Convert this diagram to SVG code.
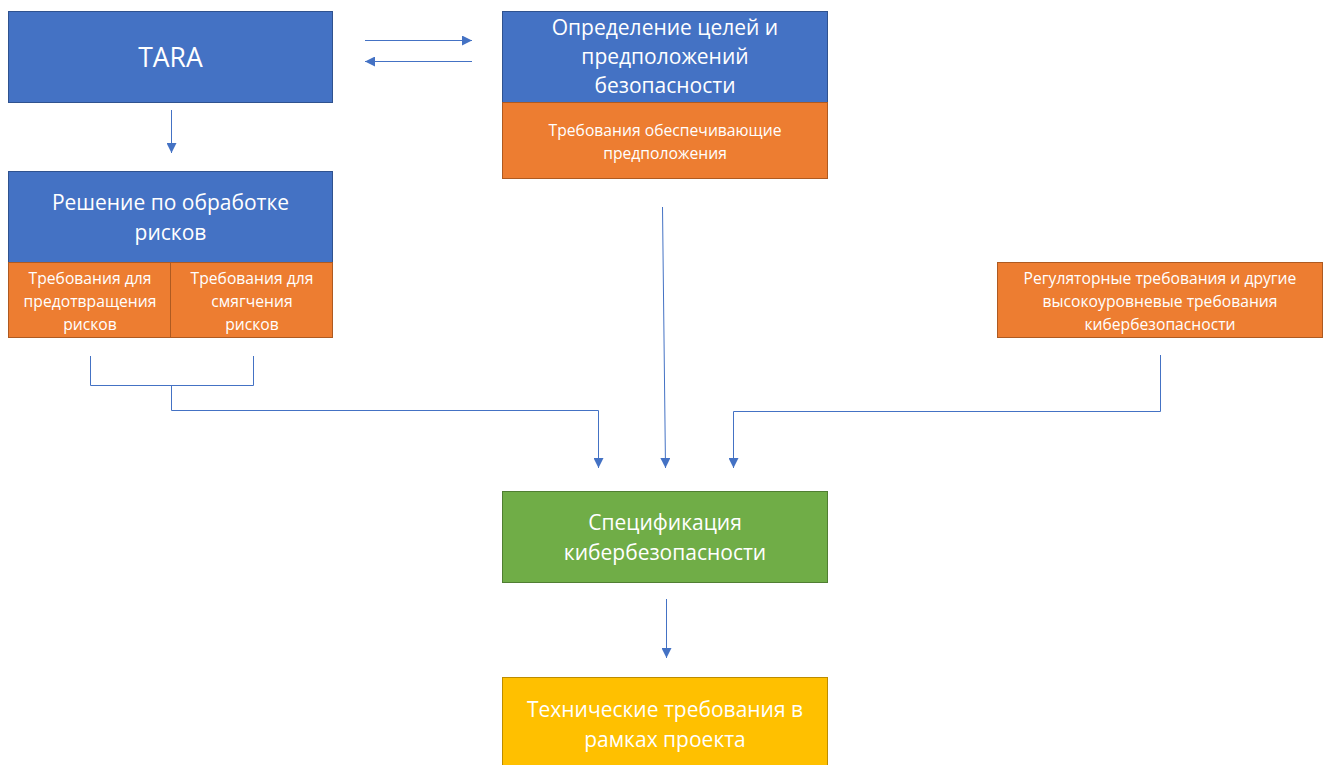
<svg xmlns="http://www.w3.org/2000/svg" width="1327" height="765" viewBox="0 0 1327 765">
<defs>
<marker id="ah" viewBox="0 0 10 10" refX="10" refY="5" markerWidth="10" markerHeight="10" markerUnits="userSpaceOnUse" orient="auto">
<path d="M0,0 L10,5 L0,10 Z" fill="#4472C4"/>
</marker>
<style>
.blue{fill:#4472C4;stroke:#2F528F;stroke-width:1}
.orange{fill:#ED7D31;stroke:#AE5A21;stroke-width:1}
.green{fill:#70AD47;stroke:#507E32;stroke-width:1}
.yellow{fill:#FFC000;stroke:#BC8C00;stroke-width:1}
text{font-family:"Open Sans","Noto Sans","Liberation Sans",sans-serif;fill:#FFFFFF;text-anchor:middle}
.big{font-size:26.5px}
.mid{font-size:21px}
.sm{font-size:15.7px}
.c{fill:none;stroke:#4472C4;stroke-width:1}
</style>
</defs>
<rect width="1327" height="765" fill="#FFFFFF"/>
<g id="tara">
<rect class="blue" x="8.5" y="11.5" width="324" height="91"/>
<text class="big" x="170.5" y="67">TARA</text>
</g>
<g id="goals">
<rect class="blue" x="502.5" y="11.5" width="325" height="91"/>
<text class="mid" x="665" y="35">Определение целей и</text>
<text class="mid" x="665" y="64">предположений</text>
<text class="mid" x="665" y="93">безопасности</text>
<rect class="orange" x="502.5" y="102.5" width="325" height="76"/>
<text class="sm" x="665" y="136">Требования обеспечивающие</text>
<text class="sm" x="665" y="159">предположения</text>
</g>
<g id="risk">
<rect class="blue" x="8.5" y="171.5" width="324" height="91"/>
<text class="mid" x="170.5" y="210">Решение по обработке</text>
<text class="mid" x="170.5" y="240">рисков</text>
</g>
<g id="prevent">
<rect class="orange" x="8.5" y="262.5" width="162" height="75"/>
<text class="sm" x="90" y="284">Требования для</text>
<text class="sm" x="90" y="307">предотвращения</text>
<text class="sm" x="90" y="330">рисков</text>
</g>
<g id="mitigate">
<rect class="orange" x="170.5" y="262.5" width="162" height="75"/>
<text class="sm" x="252" y="284">Требования для</text>
<text class="sm" x="252" y="307">смягчения</text>
<text class="sm" x="252" y="330">рисков</text>
</g>
<g id="regulatory">
<rect class="orange" x="997.5" y="262.5" width="325" height="75"/>
<text class="sm" x="1160" y="284">Регуляторные требования и другие</text>
<text class="sm" x="1160" y="307">высокоуровневые требования</text>
<text class="sm" x="1160" y="330">кибербезопасности</text>
</g>
<g id="spec">
<rect class="green" x="502.5" y="491.5" width="325" height="91"/>
<text class="mid" x="665" y="530">Спецификация</text>
<text class="mid" x="665" y="560">кибербезопасности</text>
</g>
<g id="tech">
<rect class="yellow" x="502.5" y="677.5" width="325" height="95"/>
<text class="mid" x="665" y="717">Технические требования в</text>
<text class="mid" x="665" y="747">рамках проекта</text>
</g>
<g id="connectors">
<line class="c" x1="365" y1="40.5" x2="472" y2="40.5" marker-end="url(#ah)"/>
<line class="c" x1="472" y1="61.5" x2="365" y2="61.5" marker-end="url(#ah)"/>
<line class="c" x1="171.5" y1="110" x2="171.5" y2="153" marker-end="url(#ah)"/>
<polyline class="c" points="90.5,356 90.5,385.5 253.5,385.5 253.5,356"/>
<polyline class="c" points="171.5,385.5 171.5,410.5 598.5,410.5 598.5,468" marker-end="url(#ah)"/>
<line class="c" x1="662.5" y1="207" x2="665.5" y2="468" marker-end="url(#ah)"/>
<polyline class="c" points="1160.5,355 1160.5,411.5 733.5,411.5 733.5,468" marker-end="url(#ah)"/>
<line class="c" x1="666.5" y1="599" x2="666.5" y2="658" marker-end="url(#ah)"/>
</g>
</svg>
